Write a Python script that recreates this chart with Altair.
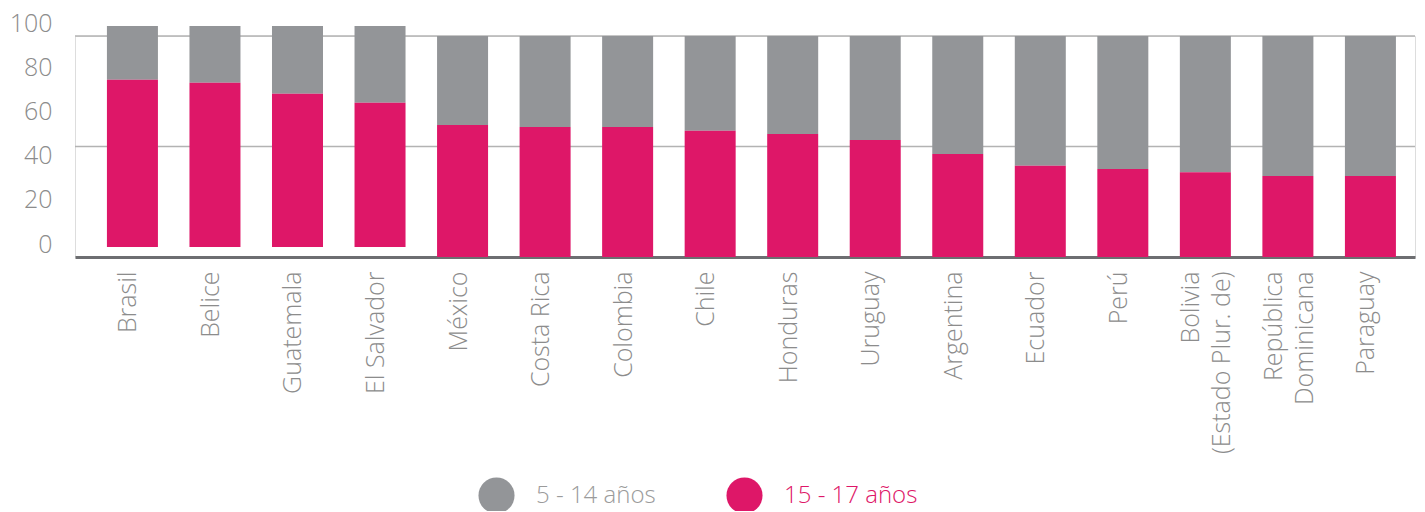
import altair as alt
import pandas as pd

countries = ["Brasil", "Belice", "Guatemala", "El Salvador", "México", "Costa Rica",
             "Colombia", "Chile", "Honduras", "Uruguay", "Argentina", "Ecuador", "Perú",
             "Bolivia\n(Estado Plur. de)", "República\nDominicana", "Paraguay"]
share_15_17 = [75.7, 74.3, 69.4, 65.3, 59.7, 58.8, 58.8, 57.1, 55.7, 52.9,
               46.6, 41.3, 39.8, 38.3, 36.7, 36.7]
total = [100] * 16
raised = [True] * 4 + [False] * 12
y_ticks = [0, 20, 40, 60, 80, 100]
grid_values = [50, 100]
groups = ["5 - 14 años", "15 - 17 años"]
colors = ["#939598", "#DE1768"]

df = pd.DataFrame({
    "country": countries,
    "young": share_15_17,
    "total": total,
    "raised": raised,
    "g_old": groups[0],
    "g_young": groups[1],
})

FONT = "Open Sans"

x_enc = alt.X(
    "country:N", sort=countries,
    scale=alt.Scale(paddingInner=0.382, paddingOuter=0.309, align=0.626),
    axis=alt.Axis(title=None, labelAngle=270, labelAlign="right", labelBaseline="middle",
                  labelPadding=14, ticks=False, domain=True, domainColor="#6d6e71",
                  domainWidth=3, labelFontSize=25, labelColor="#8c8c8c",
                  labelFont=FONT, labelFontWeight=300, labelLineHeight=31,
                  labelOffset={"condition": {"test": "indexof(datum.value, '\\n') >= 0",
                                             "value": -14}, "value": -4},
                  labelLimit=400, labelExpr="split(datum.label, '\\n')", grid=False),
)

y_scale = alt.Scale(domain=[0, 100], nice=False, zero=True)
y_axis = alt.Axis(title=None, values=y_ticks, grid=False, domain=False, ticks=False,
                  labelPadding=23, labelOffset=-13, labelFontSize=25, labelColor="#8c8c8c",
                  labelFont=FONT, labelFontWeight=300, minExtent=67, maxExtent=67)

base = alt.Chart(df)

def legend(lx, lcolor):
    return alt.Legend(title=None, orient="none", legendX=lx, legendY=441,
                      symbolType="circle", symbolSize=1300, symbolStrokeWidth=0,
                      symbolOpacity=1, labelFontSize=24, labelColor=lcolor,
                      labelOffset=21, labelFont=FONT, labelFontWeight=300, padding=0)

gray_color = alt.Color("g_old:N", scale=alt.Scale(domain=[groups[0]], range=[colors[0]]),
                       legend=legend(403, "#9b9b9b"))
pink_color = alt.Color("g_young:N", scale=alt.Scale(domain=[groups[1]], range=[colors[1]]),
                       legend=legend(651, colors[1]))

def bars(field_y, field_y2, color, is_raised):
    if is_raised:
        m = base.mark_bar(yOffset=-10, y2Offset=-10)
        f = "datum.raised"
    else:
        m = base.mark_bar()
        f = "!datum.raised"
    return m.transform_filter(f).encode(
        x=x_enc,
        y=alt.Y(field_y, scale=y_scale, axis=y_axis),
        y2=field_y2,
        color=color,
    )

gray_layer = alt.layer(
    bars("young:Q", "total:Q", gray_color, True),
    bars("young:Q", "total:Q", gray_color, False),
)

pink_layer = alt.layer(
    bars("young:Q", alt.datum(0), pink_color, True),
    bars("young:Q", alt.datum(0), pink_color, False),
)

rules = alt.Chart(pd.DataFrame({"v": grid_values})).mark_rule(
    color="#b3b3b3", strokeWidth=1.5
).encode(y=alt.Y("v:Q", scale=y_scale, axis=y_axis))

chart = alt.layer(rules, gray_layer, pink_layer).resolve_scale(
    color="independent"
).properties(
    width=1340, height=221,
    autosize=alt.AutoSizeParams(type="none"),
    padding={"left": 67, "top": 28, "right": 1, "bottom": 254},
).configure_view(stroke=None).configure(font=FONT)

chart.save("out.html", embed_options={"renderer": "svg", "actions": False})
